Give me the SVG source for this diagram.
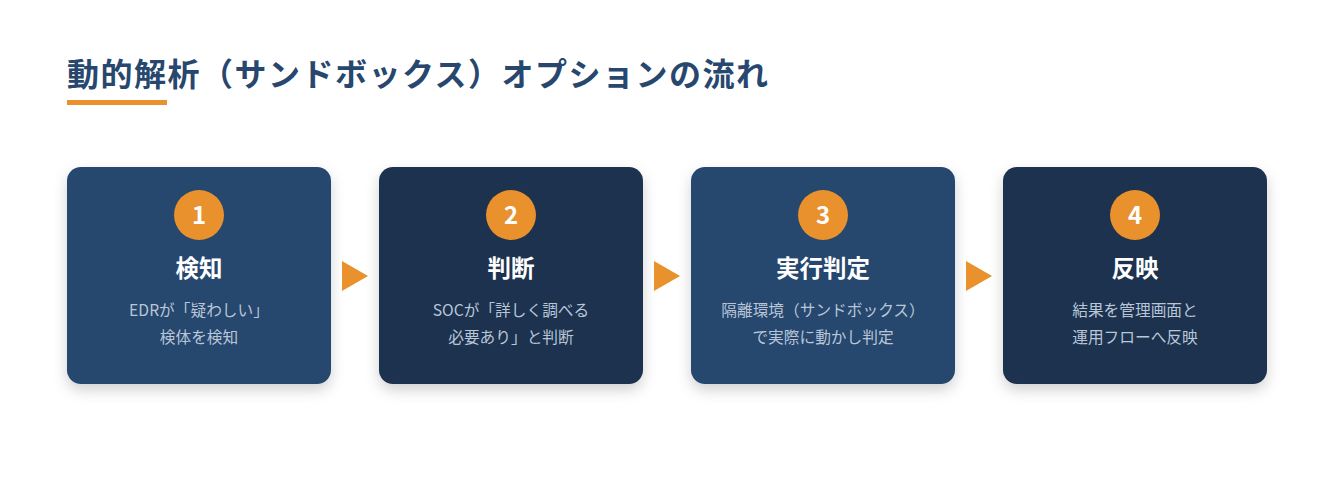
<svg xmlns="http://www.w3.org/2000/svg" width="1336" height="501" viewBox="0 0 1336 501">
<style>
.t{font-family:"Noto Sans CJK JP","Noto Sans",sans-serif;}
.h{font-size:32px;font-weight:700;fill:#27476e;letter-spacing:1.5px}
.num{font-size:24px;font-weight:700;fill:#ffffff;text-anchor:middle}
.ttl{font-size:23.5px;font-weight:700;fill:#ffffff;text-anchor:middle}
.desc{font-size:15.7px;fill:#b9c6d8;text-anchor:middle}
.a{fill:#27476e}.b{fill:#1c3150}
.c{fill:#e8912d}
</style>
<defs>
<filter id="sh" x="-20%" y="-20%" width="140%" height="150%">
<feDropShadow dx="0" dy="6" stdDeviation="7" flood-color="#000" flood-opacity="0.18"/>
</filter>
</defs>
<rect width="1336" height="501" fill="#ffffff"/>
<text class="t h" x="67" y="86">動的解析（サンドボックス）オプションの流れ</text>
<rect x="67" y="100" width="100" height="5" class="c"/>
<g id="node1">
<rect x="67" y="167" width="264" height="217" rx="14" class="a" filter="url(#sh)"/>
<circle cx="199" cy="215" r="25" class="c"/>
<text class="t num" x="199" y="224">1</text>
<text class="t ttl" x="199" y="277">検知</text>
<text class="t desc" x="199" y="316">EDRが「疑わしい」</text>
<text class="t desc" x="199" y="343">検体を検知</text>
</g>
<g id="node2">
<rect x="379" y="167" width="264" height="217" rx="14" class="b" filter="url(#sh)"/>
<circle cx="511" cy="215" r="25" class="c"/>
<text class="t num" x="511" y="224">2</text>
<text class="t ttl" x="511" y="277">判断</text>
<text class="t desc" x="511" y="316">SOCが「詳しく調べる</text>
<text class="t desc" x="511" y="343">必要あり」と判断</text>
</g>
<g id="node3">
<rect x="691" y="167" width="264" height="217" rx="14" class="a" filter="url(#sh)"/>
<circle cx="823" cy="215" r="25" class="c"/>
<text class="t num" x="823" y="224">3</text>
<text class="t ttl" x="823" y="277">実行判定</text>
<text class="t desc" x="823" y="316">隔離環境（サンドボックス）</text>
<text class="t desc" x="823" y="343">で実際に動かし判定</text>
</g>
<g id="node4">
<rect x="1003" y="167" width="264" height="217" rx="14" class="b" filter="url(#sh)"/>
<circle cx="1135" cy="215" r="25" class="c"/>
<text class="t num" x="1135" y="224">4</text>
<text class="t ttl" x="1135" y="277">反映</text>
<text class="t desc" x="1135" y="316">結果を管理画面と</text>
<text class="t desc" x="1135" y="343">運用フローへ反映</text>
</g>
<g id="connectors">
<polygon points="342,261 368,276 342,291" class="c"/>
<polygon points="654,261 680,276 654,291" class="c"/>
<polygon points="966,261 992,276 966,291" class="c"/>
</g>
</svg>
